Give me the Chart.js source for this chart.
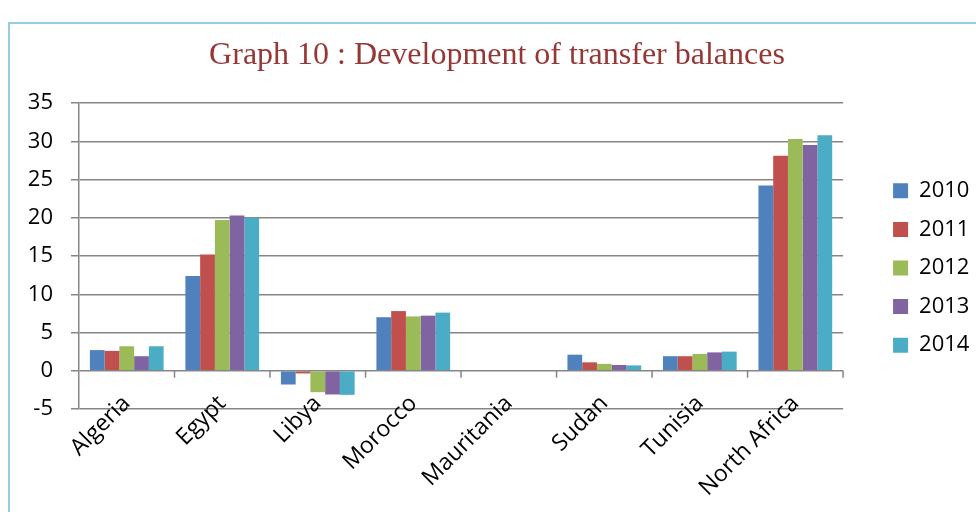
<!DOCTYPE html>
<html>
<head>
<meta charset="utf-8">
<script src="https://cdn.jsdelivr.net/npm/chart.js@4"></script>
<style>
  html, body { margin: 0; padding: 0; background: #ffffff; overflow: hidden; }
  #wrap { position: relative; width: 976px; height: 512px; }
  #frame { position: absolute; left: 8px; top: 22px; width: 1000px; height: 600px; border: 2px solid #93cddd; box-sizing: border-box; }
  #c { position: absolute; left: 0; top: 0; }
</style>
</head>
<body>
<div id="wrap">
  <div id="frame"></div>
  <canvas id="c" width="976" height="512"></canvas>
</div>
<script>
const categories = ['Algeria', 'Egypt', 'Libya', 'Morocco', 'Mauritania', 'Sudan', 'Tunisia', 'North Africa'];
const seriesNames = ['2010', '2011', '2012', '2013', '2014'];
const values2010 = [2.7, 12.4, -1.8, 7.0, null, 2.1, 1.9, 24.2];
const values2011 = [2.6, 15.2, -0.35, 7.8, null, 1.1, 1.9, 28.1];
const values2012 = [3.2, 19.7, -2.8, 7.1, null, 0.9, 2.2, 30.3];
const values2013 = [1.9, 20.3, -3.1, 7.2, null, 0.75, 2.4, 29.5];
const values2014 = [3.2, 20.0, -3.15, 7.6, null, 0.7, 2.5, 30.8];
const yTicks = [-5, 0, 5, 10, 15, 20, 25, 30, 35];
const titleText = 'Graph 10 : Development of transfer balances';

const colors = ['#4F81BD', '#C0504D', '#9BBB59', '#8064A2', '#4BACC6'];
const allValues = [values2010, values2011, values2012, values2013, values2014];
const gridColor = '#868686';

const zeroTicks = {
  id: 'zeroTicks',
  afterDatasetsDraw(chart) {
    const x = chart.scales.x, y = chart.scales.y;
    const y0 = y.getPixelForValue(0);
    const ctx = chart.ctx;
    ctx.save();
    ctx.strokeStyle = gridColor;
    ctx.lineWidth = 1.5;
    const n = categories.length;
    for (let i = 1; i <= n; i++) {
      const px = i < n ? (x.getPixelForValue(i - 1) + x.getPixelForValue(i)) / 2 : x.right;
      ctx.beginPath();
      ctx.moveTo(px, y0);
      ctx.lineTo(px, y0 + 7);
      ctx.stroke();
    }
    ctx.restore();
  }
};

new Chart(document.getElementById('c'), {
  type: 'bar',
  data: {
    labels: categories,
    datasets: seriesNames.map((name, i) => ({
      label: name,
      data: allValues[i],
      backgroundColor: colors[i],
      borderWidth: 0,
      barPercentage: 1.0,
      categoryPercentage: 0.772
    }))
  },
  options: {
    responsive: false,
    animation: false,
    layout: { padding: { left: 14.6, right: -3.4, top: 24, bottom: 0 } },
    plugins: {
      title: {
        display: true,
        text: titleText,
        color: '#953735',
        font: { family: 'Liberation Serif', size: 32, weight: 'normal' },
        padding: { top: 12, bottom: 28.6 }
      },
      legend: {
        position: 'right',
        labels: {
          boxWidth: 15,
          boxHeight: 15,
          padding: 16.6,
          color: '#000000',
          font: { family: 'Open Sans', size: 22 }
        }
      },
      tooltip: { enabled: false }
    },
    scales: {
      x: {
        position: 'bottom',
        grid: { display: false, drawTicks: false },
        border: { display: false },
        ticks: {
          color: '#000000',
          font: { family: 'Open Sans', size: 23 },
          minRotation: 45,
          maxRotation: 45,
          padding: -19,
          autoSkip: false
        },
        afterFit(s) { s.height = 103; },
        afterUpdate(s) { s._computeLabelArea = () => undefined; }
      },
      y: {
        position: 'left',
        min: -5,
        max: 35,
        afterBuildTicks(s) { s.ticks = yTicks.map(v => ({ value: v })); },
        grid: { color: gridColor, lineWidth: 1.5, tickLength: 8, drawTicks: true, tickColor: gridColor },
        border: { display: true, color: gridColor, width: 1.5 },
        ticks: {
          color: '#000000',
          font: { family: 'Open Sans', size: 22 },
          padding: 18
        },
        afterFit(s) { s.width = 64.4; }
      },
      ySpacer: {
        position: 'right',
        display: true,
        grid: { display: false, drawOnChartArea: false },
        border: { display: false },
        ticks: { display: false },
        afterFit(s) { s.width = 33.4; }
      }
    }
  },
  plugins: [zeroTicks]
});
</script>
</body>
</html>
